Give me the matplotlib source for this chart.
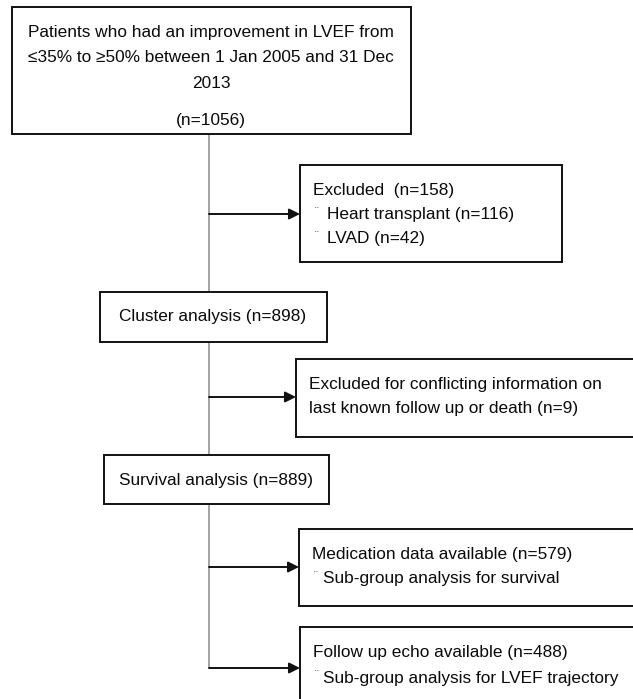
import matplotlib
matplotlib.use("Agg")
import matplotlib.pyplot as plt
from matplotlib.patches import Rectangle

plt.rcParams['font.family'] = ['Liberation Sans', 'DejaVu Sans']

# ---- data ----
n_total = 1056
n_excluded = 158
n_transplant = 116
n_lvad = 42
n_cluster = 898
n_conflict = 9
n_survival = 889
n_medication = 579
n_echo = 488

top_lines = ["Patients who had an improvement in LVEF from",
             "\u226435% to \u226550% between 1 Jan 2005 and 31 Dec",
             "2013", "", f"(n={n_total})"]
excl1_head = f"Excluded  (n={n_excluded})"
excl1_items = [f"Heart transplant (n={n_transplant})", f"LVAD (n={n_lvad})"]
cluster_label = f"Cluster analysis (n={n_cluster})"
excl2_lines = ["Excluded for conflicting information on",
               f"last known follow up or death (n={n_conflict})"]
survival_label = f"Survival analysis (n={n_survival})"
med_head = f"Medication data available (n={n_medication})"
med_items = ["Sub-group analysis for survival"]
echo_head = f"Follow up echo available (n={n_echo})"
echo_items = ["Sub-group analysis for LVEF trajectory"]

# ---- layout ----
W, H = 633, 699
fig = plt.figure(figsize=(W / 100, H / 100), dpi=100)
ax = fig.add_axes([0, 0, 1, 1])
ax.set_xlim(0, W)
ax.set_ylim(H, 0)
ax.axis('off')

FS = 11.6
texts = []

def box(x0, y0, x1, y1):
    ax.add_patch(Rectangle((x0, y0), x1 - x0, y1 - y0, facecolor='white',
                           edgecolor='#111111', linewidth=1.4, zorder=3))

def txt(x, y, s, ha='left', size=None):
    t = ax.text(x, y, s, ha=ha, va='center', fontsize=size or FS,
                color='#0a0a0a', zorder=4)
    texts.append(t)
    return t

def bullet(x, y):
    ax.text(x, y - 2, "\u00a8", ha='center', va='center', fontsize=8.5,
            color='#444444', zorder=4)

def arrow(y, x0, x1):
    ax.annotate("", xy=(x1, y), xytext=(x0, y),
                arrowprops=dict(arrowstyle='-|>', color='#111111', lw=1.4,
                                mutation_scale=16, shrinkA=0, shrinkB=0),
                zorder=2)

# central vertical line
ax.plot([209, 209], [134, 668], color='#8a8a8a', lw=1.1, zorder=1)

# top box
box(12, 7, 411, 134)
for y, s in zip([33, 58, 83, 101, 121], top_lines):
    if s:
        txt(211, y, s, ha='center')

# excluded 1
arrow(214, 209, 300)
box(300, 165, 562, 262)
txt(313, 191, excl1_head)
for y, s in zip([215, 239], excl1_items):
    bullet(317, y)
    txt(327, y, s)

# cluster
box(100, 292, 327, 342)
txt(213, 317, cluster_label, ha='center')

# excluded 2
arrow(397, 209, 296)
box(296, 359, 645, 437)
for y, s in zip([385, 409], excl2_lines):
    txt(309, y, s)

# survival
box(104, 455, 329, 504)
txt(216, 480, survival_label, ha='center')

# medication
arrow(567, 209, 299)
box(299, 529, 645, 606)
txt(312, 554, med_head)
for y, s in zip([579], med_items):
    bullet(316, y)
    txt(323, y, s)

# echo
arrow(668, 209, 300)
box(300, 627, 645, 712)
txt(313, 653, echo_head)
for y, s in zip([678], echo_items):
    bullet(317, y)
    txt(323, y, s)

# fit font size to the reference width of the first title line (~367 px)
fig.canvas.draw()
r = fig.canvas.get_renderer()
w = texts[0].get_window_extent(r).width
scale = 367.0 / w
for t in texts:
    t.set_fontsize(FS * scale)

fig.savefig("out.png", dpi=100)
